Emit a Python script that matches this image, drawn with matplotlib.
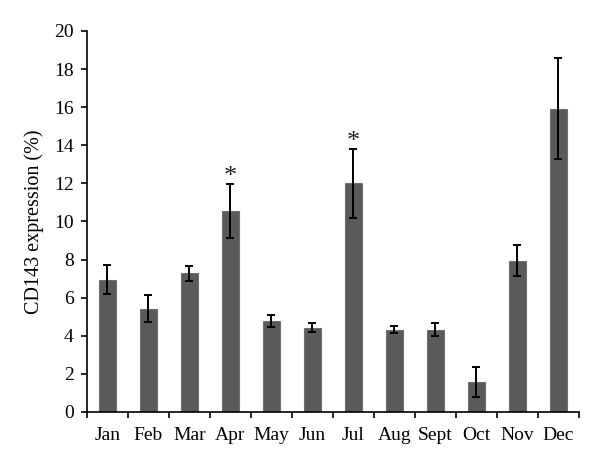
import numpy as np
import matplotlib
matplotlib.use('Agg')
import matplotlib.pyplot as plt

months = ['Jan', 'Feb', 'Mar', 'Apr', 'May', 'Jun', 'Jul', 'Aug', 'Sept', 'Oct', 'Nov', 'Dec']
expression = [6.95, 5.42, 7.28, 10.55, 4.77, 4.42, 12.0, 4.33, 4.33, 1.57, 7.95, 15.92]
errors = [0.78, 0.7, 0.4, 1.43, 0.31, 0.23, 1.82, 0.2, 0.32, 0.79, 0.83, 2.64]
significant = ['Apr', 'Jul']

plt.rcParams['font.family'] = ['Liberation Serif', 'DejaVu Serif']

fig = plt.figure(figsize=(6, 4.66), dpi=100)
ax = fig.add_axes([0.1445, 0.1159, 0.8205, 0.8176])

x = np.arange(len(months))
ax.bar(x, expression, width=0.42, color='#5a5a5a', edgecolor='#707070', linewidth=0.8,
       yerr=errors, error_kw=dict(ecolor='black', elinewidth=1.4, capsize=3, capthick=1.4))

# asterisks over significant months
for i, m in enumerate(months):
    if m in significant:
        ax.text(i, expression[i] + errors[i] - 0.2, '*', ha='center', va='bottom',
                fontsize=19, color='#222222')

ax.set_xlim(-0.5, len(months) - 0.5)
ax.set_ylim(0, 20)
ax.set_yticks(np.arange(0, 21, 2))
ax.set_xticks(x)
ax.set_xticklabels(months)
ax.set_xticks(np.arange(-0.5, len(months), 1), minor=True)
ax.tick_params(axis='x', which='major', length=0, labelsize=14, pad=11)
ax.tick_params(axis='x', which='minor', length=4.3, width=1.2, direction='out')
ax.tick_params(axis='y', length=4.3, width=1.2, direction='out', labelsize=14, pad=5)
ax.set_ylabel('CD143 expression (%)', fontsize=14.5, labelpad=7)

for s in ['top', 'right']:
    ax.spines[s].set_visible(False)
for s in ['left', 'bottom']:
    ax.spines[s].set_linewidth(1.2)

fig.savefig('out.png', dpi=100)
